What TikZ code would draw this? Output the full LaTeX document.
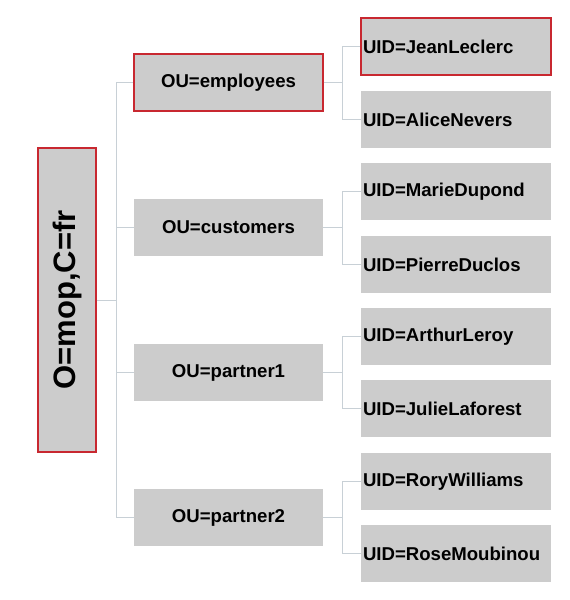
\documentclass[tikz,border=0pt]{standalone}
\usepackage{fontspec}
\setmainfont{Liberation Sans}
\begin{document}
\begin{tikzpicture}[x=1pt,y=-1pt,
  box/.style={draw=none,fill=boxgray,minimum width=#1,minimum height=57pt,inner sep=0pt,font=\bfseries\fontsize{18.6}{20}\selectfont},
  hl/.style={draw=boxred,line width=1.2pt},
  conn/.style={draw=linegray,line width=0.8pt}]
\definecolor{boxgray}{RGB}{204,204,204}
\definecolor{boxred}{RGB}{200,40,48}
\definecolor{linegray}{RGB}{200,208,214}
\useasboundingbox (0,0) rectangle (570,600);
% root
\node[box=304pt,hl,minimum height=58pt,rotate=90,font=\bfseries\fontsize{31}{33}\selectfont] (root) at (67,300) {O=mop,C=fr};
% OU nodes
\node[box=189pt,hl] (ou1) at (228.5,82.5) {OU=employees};
\node[box=189pt] (ou2) at (228.5,227.5) {OU=customers};
\node[box=189pt] (ou3) at (228.5,372.5) {OU=partner1};
\node[box=189pt] (ou4) at (228.5,517.5) {OU=partner2};
% UID nodes
\tikzset{uid/.style={box=190pt,text width=186pt,align=left,inner xsep=2pt}}
\node[uid,hl] (u1) at (456,46.5) {UID=JeanLeclerc};
\node[uid] (u2) at (456,119.5) {UID=AliceNevers};
\node[uid] (u3) at (456,191.5) {UID=MarieDupond};
\node[uid] (u4) at (456,264.5) {UID=PierreDuclos};
\node[uid] (u5) at (456,336.5) {UID=ArthurLeroy};
\node[uid] (u6) at (456,408.5) {UID=JulieLaforest};
\node[uid] (u7) at (456,481.5) {UID=RoryWilliams};
\node[uid] (u8) at (456,553.5) {UID=RoseMoubinou};
% connectors root -> OU
\coordinate (j0) at (116,300);
\draw[conn] (root.south) -- (j0);
\foreach \o in {ou1,ou2,ou3,ou4} \draw[conn] (j0) |- (\o.west);
% OU -> UID
\foreach \o/\a/\b in {ou1/u1/u2,ou2/u3/u4,ou3/u5/u6,ou4/u7/u8}{
  \coordinate (j\o) at ([xshift=19pt]\o.east);
  \draw[conn] (\o.east) -- (j\o);
  \draw[conn] (j\o) |- (\a.west);
  \draw[conn] (j\o) |- (\b.west);
}
\end{tikzpicture}
\end{document}
